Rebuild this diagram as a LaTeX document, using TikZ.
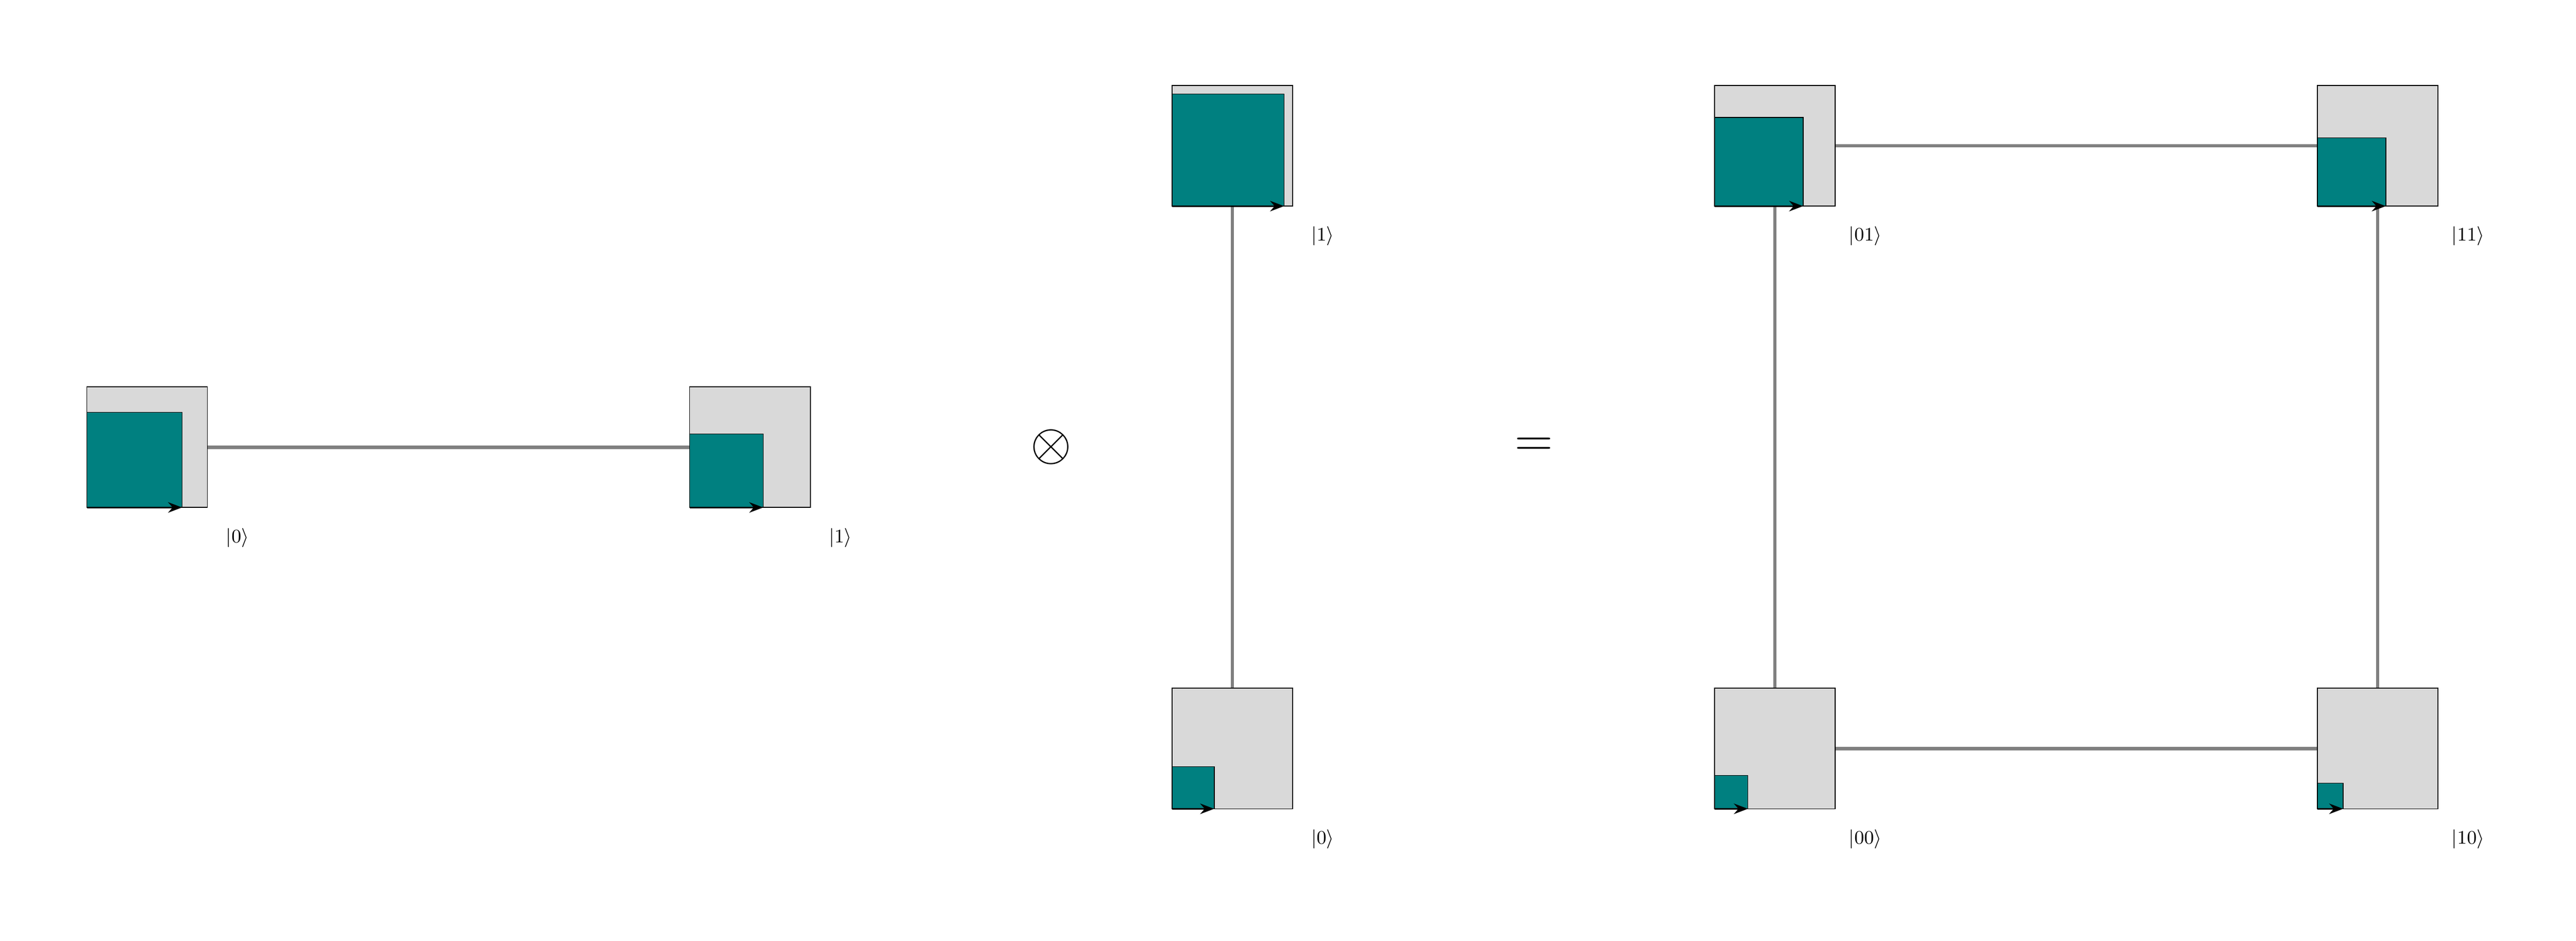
\documentclass[tikz,border=0pt]{standalone}
\usetikzlibrary{arrows.meta,backgrounds}
\tikzset{
	cell/.style={draw,fill=gray!30,minimum size=2cm,inner sep=0pt,outer sep=0pt,anchor=south west},
	amp/.style={draw,fill=teal,minimum size=#1*2cm,inner sep=0pt,outer sep=0pt,anchor=south west},
	wire/.style={draw=gray,ultra thick},
	ket/.style={font=\small,inner sep=0pt},
}
\begin{document}
\begin{tikzpicture}[>=Stealth,x=1cm,y=1cm]
	\def\pa{0.79}
	\def\pb{0.61}
	\def\qa{0.35}
	\def\qb{0.93}
	\pgfmathsetmacro\paa{\pa*\qa}
	\pgfmathsetmacro\pab{\pa*\qb}
	\pgfmathsetmacro\pba{\pb*\qa}
	\pgfmathsetmacro\pbb{\pb*\qb}
	\useasboundingbox (-1.44,-2.19) rectangle (41.29,13.42);
	% first qubit
	\node[cell] (c0) at (0,5) {};
	\node[amp=\pa] (a0) at (c0.south west) {};
	\draw[thick,->] (c0.south west) -- (a0.south east);
	\node[ket] (k0) at ([shift={(0.5,-0.5)}]c0.south east) {$|0\rangle$};
	\node[cell] (c1) at (10,5) {};
	\node[amp=\pb] (a1) at (c1.south west) {};
	\draw[thick,->] (c1.south west) -- (a1.south east);
	\node[ket] (k1) at ([shift={(0.5,-0.5)}]c1.south east) {$|1\rangle$};
	\node (tensor) at (16,6) {\Huge$\otimes$};
	% second qubit
	\node[cell] (d0) at (18,0) {};
	\node[amp=\qa] (b0) at (d0.south west) {};
	\draw[thick,->] (d0.south west) -- (b0.south east);
	\node[ket] (m0) at ([shift={(0.5,-0.5)}]d0.south east) {$|0\rangle$};
	\node[cell] (d1) at (18,10) {};
	\node[amp=\qb] (b1) at (d1.south west) {};
	\draw[thick,->] (d1.south west) -- (b1.south east);
	\node[ket] (m1) at ([shift={(0.5,-0.5)}]d1.south east) {$|1\rangle$};
	\node (equal) at (24,6) {\Huge$=$};
	% product state
	\node[cell] (e00) at (27,0) {};
	\node[amp=\paa] (f00) at (e00.south west) {};
	\draw[thick,->] (e00.south west) -- (f00.south east);
	\node[ket] (n00) at ([shift={(0.5,-0.5)}]e00.south east) {$|00\rangle$};
	\node[cell] (e10) at (37,0) {};
	\node[amp=\pba] (f10) at (e10.south west) {};
	\draw[thick,->] (e10.south west) -- (f10.south east);
	\node[ket] (n10) at ([shift={(0.5,-0.5)}]e10.south east) {$|10\rangle$};
	\node[cell] (e01) at (27,10) {};
	\node[amp=\pab] (f01) at (e01.south west) {};
	\draw[thick,->] (e01.south west) -- (f01.south east);
	\node[ket] (n01) at ([shift={(0.5,-0.5)}]e01.south east) {$|01\rangle$};
	\node[cell] (e11) at (37,10) {};
	\node[amp=\pbb] (f11) at (e11.south west) {};
	\draw[thick,->] (e11.south west) -- (f11.south east);
	\node[ket] (n11) at ([shift={(0.5,-0.5)}]e11.south east) {$|11\rangle$};
	% wires behind the cells
	\begin{scope}[on background layer]
		\draw[wire] (c0) -- (c1);
		\draw[wire] (d0) -- (d1);
		\draw[wire] (e00) -- (e10);
		\draw[wire] (e01) -- (e11);
		\draw[wire] (e00) -- (e01);
		\draw[wire] (e10) -- (e11);
	\end{scope}
\end{tikzpicture}
\end{document}
